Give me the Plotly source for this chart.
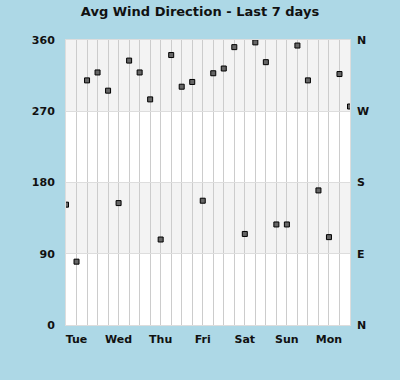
import plotly.graph_objects as go

# hours relative to Tue 00:00, one reading every 6 hours
hours = [-6, 0, 6, 12, 18, 24, 30, 36, 42, 48, 54, 60, 66, 72, 78,
         84, 90, 96, 102, 108, 114, 120, 126, 132, 138, 144, 150, 156]
direction = [152, 80, 309, 319, 296, 154, 334, 319, 285, 108, 341, 301, 307, 157, 318,
             324, 351, 115, 357, 332, 127, 127, 353, 309, 170, 111, 317, 276]

day_ticks = [0, 24, 48, 72, 96, 120, 144]
day_labels = ["Tue", "Wed", "Thu", "Fri", "Sat", "Sun", "Mon"]
deg_ticks = [0, 90, 180, 270, 360]
compass_labels = ["N", "E", "S", "W", "N"]

font_b = dict(family="DejaVu Sans", size=11, color="#111")

fig = go.Figure()
fig.add_trace(go.Scatter(
    x=hours, y=direction, mode="markers",
    marker=dict(symbol="square", size=5, color="#666", line=dict(color="#000", width=1)),
    cliponaxis=True, showlegend=False, hoverinfo="skip"))
fig.add_trace(go.Scatter(x=[hours[0]], y=[0], yaxis="y2", mode="markers",
                         marker=dict(opacity=0), showlegend=False, hoverinfo="skip"))

# bands
for lo, hi in [(90, 180), (270, 360)]:
    fig.add_shape(type="rect", xref="paper", yref="y", x0=0, x1=1, y0=lo, y1=hi,
                  fillcolor="#f3f3f3", line_width=0, layer="below")

fig.update_layout(
    width=400, height=380,
    margin=dict(l=66, r=50, t=40, b=55),
    paper_bgcolor="#add8e6", plot_bgcolor="#ffffff",
    title=dict(text="<b>Avg Wind Direction - Last 7 days</b>", x=0.5, xanchor="center",
               y=1 - 11 / 380, yanchor="middle",
               font=dict(family="DejaVu Sans", size=13, color="#111")),
    xaxis=dict(range=[hours[0], hours[-1]], tickvals=day_ticks,
               ticktext=["<b>%s</b>" % d for d in day_labels],
               showgrid=True, gridcolor="#cccccc", gridwidth=1,
               minor=dict(dtick=6, tick0=0, showgrid=True, gridcolor="#cccccc", gridwidth=1),
               ticks="", tickfont=font_b, zeroline=False,
               showline=True, linecolor="#dddddd", mirror=True, ticklabelstandoff=4),
    yaxis=dict(range=[0, 360], tickvals=deg_ticks,
               ticktext=["<b>%d</b>" % v for v in deg_ticks],
               showgrid=True, gridcolor="#dddddd", gridwidth=1, zeroline=False,
               ticks="", tickfont=font_b, ticklabelstandoff=8,
               showline=True, linecolor="#dddddd", mirror=True),
    yaxis2=dict(range=[0, 360], overlaying="y", side="right", tickvals=deg_ticks,
                ticktext=["<b>%s</b>" % c for c in compass_labels],
                showgrid=False, zeroline=False, ticks="", tickfont=font_b,
                ticklabelstandoff=6),
)

fig.write_html("out.html", config={"displayModeBar": False},
               post_script="document.body.style.margin='0';document.body.style.padding='0';")
